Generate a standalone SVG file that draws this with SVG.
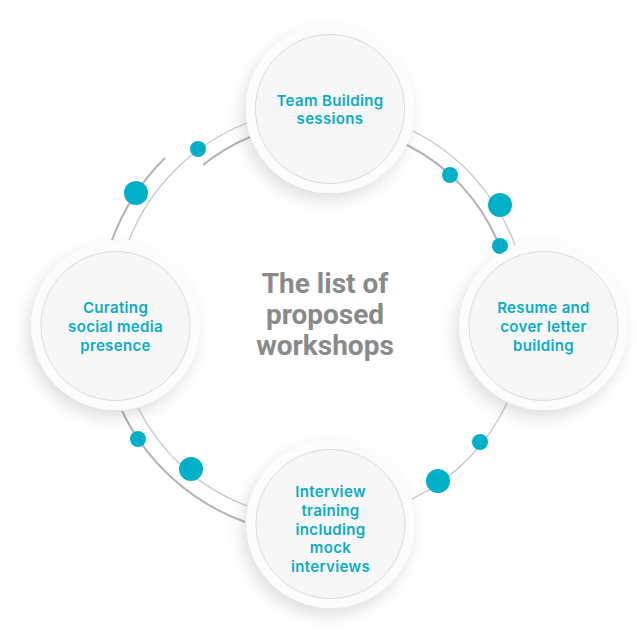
<svg xmlns="http://www.w3.org/2000/svg" width="637" height="641" viewBox="0 0 637 641">
<defs>
<filter id="sh" x="-40%" y="-40%" width="180%" height="180%">
<feDropShadow dx="-4" dy="7" stdDeviation="8" flood-color="#000" flood-opacity="0.13"/>
</filter>
<style>
.thick{fill:none;stroke:#b3b3b3;stroke-width:2}
.thin{fill:none;stroke:#c4c4c4;stroke-width:1.2}
.dot{fill:#00afc8}
.outer{fill:#fcfcfc;filter:url(#sh)}
.inner{fill:#f7f7f7;stroke:#dcdcdc;stroke-width:1}
.lbl{font-family:Inter,"Noto Sans",sans-serif;font-weight:600;font-size:15px;letter-spacing:0.35px;fill:#0aacc6;text-anchor:middle}
.title{font-family:Roboto,"Liberation Sans",sans-serif;font-weight:700;font-size:28px;fill:#8a8a8a;text-anchor:middle}
</style>
</defs>
<rect width="637" height="641" fill="#ffffff"/>
<g id="connectors">
<path class="thick" d="M112,240 A224,224 0 0 1 165,158"/>
<path class="thin" d="M129,240 A209,209 0 0 1 247,123"/>
<path class="thick" d="M203,165 A194,194 0 0 1 250,137"/>
<path class="thin" d="M413,131 A208,208 0 0 1 515,245"/>
<path class="thick" d="M407,145 A192,192 0 0 1 497,240"/>
<path class="thin" d="M507,403 A201,201 0 0 1 412,499"/>
<path class="thick" d="M122,411 A220,220 0 0 0 245,522"/>
<path class="thin" d="M138,408 A202,202 0 0 0 247,506"/>
<circle class="dot" cx="136" cy="193" r="12"/>
<circle class="dot" cx="198" cy="149" r="8"/>
<circle class="dot" cx="450" cy="175" r="8"/>
<circle class="dot" cx="500" cy="205" r="12"/>
<circle class="dot" cx="500" cy="246" r="8"/>
<circle class="dot" cx="480" cy="442" r="8"/>
<circle class="dot" cx="438" cy="481" r="12"/>
<circle class="dot" cx="138" cy="439" r="8"/>
<circle class="dot" cx="191" cy="469" r="12"/>
</g>
<g id="center">
<text class="title" x="325" y="293">The list of</text>
<text class="title" x="325" y="324">proposed</text>
<text class="title" x="325" y="355">workshops</text>
</g>
<g id="node-top">
<circle class="outer" cx="330" cy="109" r="84"/>
<circle class="inner" cx="330" cy="109" r="74.5"/>
<text class="lbl" x="330" y="105.5">Team Building</text>
<text class="lbl" x="330" y="124">sessions</text>
</g>
<g id="node-right">
<circle class="outer" cx="543.5" cy="326" r="84"/>
<circle class="inner" cx="543.5" cy="326" r="74.5"/>
<text class="lbl" x="543.5" y="312.5">Resume and</text>
<text class="lbl" x="543.5" y="331.5">cover letter</text>
<text class="lbl" x="543.5" y="350.5">building</text>
</g>
<g id="node-bottom">
<circle class="outer" cx="330.5" cy="524" r="84"/>
<circle class="inner" cx="330.5" cy="524" r="74.5"/>
<text class="lbl" x="330.5" y="497">Interview</text>
<text class="lbl" x="330.5" y="515.75">training</text>
<text class="lbl" x="330.5" y="534.5">including</text>
<text class="lbl" x="330.5" y="553.25">mock</text>
<text class="lbl" x="330.5" y="572">interviews</text>
</g>
<g id="node-left">
<circle class="outer" cx="115.5" cy="326" r="84"/>
<circle class="inner" cx="115.5" cy="326" r="74.5"/>
<text class="lbl" x="115.5" y="312.5">Curating</text>
<text class="lbl" x="115.5" y="331.5">social media</text>
<text class="lbl" x="115.5" y="350.5">presence</text>
</g>
</svg>
